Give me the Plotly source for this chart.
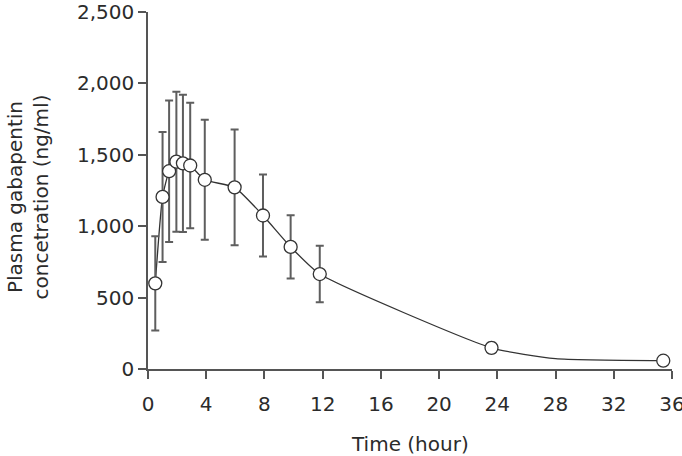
import plotly.graph_objects as go

time_h = [0.5, 1.0, 1.45, 1.95, 2.4, 2.9, 3.9, 5.95, 7.9, 9.8, 11.8, 23.6, 35.4]
conc = [600, 1205, 1385, 1452, 1440, 1425, 1325, 1272, 1075, 855, 665, 148, 58]
sd = [330, 455, 495, 490, 480, 440, 420, 405, 287, 222, 198, 35, 0]

# Extra vertex of the connecting line (no marker drawn there)
kink_time = [28.0]
kink_conc = [72]

x_ticks = [0, 4, 8, 12, 16, 20, 24, 28, 32, 36]
y_ticks = [0, 500, 1000, 1500, 2000, 2500]
y_tick_text = ["0", "500", "1,000", "1,500", "2,000", "2,500"]

pairs = sorted(zip(time_h + kink_time, conc + kink_conc))
line_x = [p[0] for p in pairs]
line_y = [p[1] for p in pairs]

FONT = "DejaVu Sans, Liberation Sans, Arial, sans-serif"
FS = 20
TXT = "#2b2b2b"
AX = "#555555"

fig = go.Figure()
fig.add_trace(go.Scatter(
    x=line_x, y=line_y, mode="lines",
    line=dict(color="#333333", width=1.3, shape="spline", smoothing=0.5),
    hoverinfo="skip", showlegend=False,
))
fig.add_trace(go.Scatter(
    x=time_h, y=conc, mode="markers",
    marker=dict(symbol="circle", size=13, color="white",
                line=dict(color="#333333", width=1.3)),
    error_y=dict(type="data", array=sd, visible=True,
                 color="#5e5e5e", thickness=2, width=4),
    showlegend=False,
))

fig.update_layout(
    width=682, height=456,
    margin=dict(l=148, r=10, t=12, b=87, autoexpand=False),
    paper_bgcolor="white", plot_bgcolor="white",
    font=dict(family=FONT, size=FS, color=TXT),
    showlegend=False,
    xaxis=dict(
        range=[0, 36], tickmode="array", tickvals=x_ticks,
        ticks="outside", ticklen=8, tickwidth=1.5, tickcolor=AX,
        showline=True, linecolor=AX, linewidth=1.5,
        showgrid=False, zeroline=False, automargin=False,
        ticklabeloverflow="allow", ticklabelstandoff=8,
        tickfont=dict(family=FONT, size=FS, color=TXT),
    ),
    yaxis=dict(
        range=[0, 2500], tickmode="array", tickvals=y_ticks, ticktext=y_tick_text,
        ticks="outside", ticklen=8, tickwidth=1.5, tickcolor=AX,
        showline=True, linecolor=AX, linewidth=1.5,
        showgrid=False, zeroline=False, automargin=False,
        tickfont=dict(family=FONT, size=FS, color=TXT),
    ),
    annotations=[
        dict(text="Plasma gabapentin<br>concetration (ng/ml)",
             xref="paper", yref="paper", x=0, y=0.5,
             xanchor="center", yanchor="middle", xshift=-121, yshift=-7,
             textangle=-90, showarrow=False,
             font=dict(family=FONT, size=FS, color=TXT)),
        dict(text="Time (hour)",
             xref="paper", yref="paper", x=0.5, y=0,
             xanchor="center", yanchor="middle", yshift=-75,
             showarrow=False,
             font=dict(family=FONT, size=FS, color=TXT)),
    ],
)

fig.write_html("out.html")
